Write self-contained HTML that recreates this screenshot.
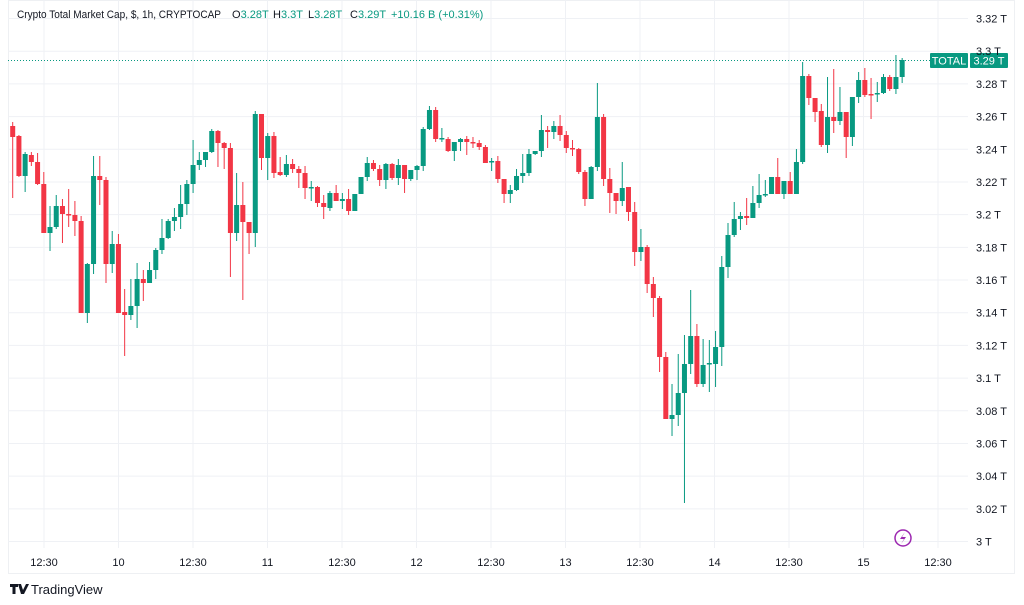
<!DOCTYPE html>
<html><head><meta charset="utf-8"><style>
body{margin:0;background:#fff;width:1024px;height:605px;overflow:hidden;font-family:"Liberation Sans",sans-serif}
svg{position:absolute;left:0;top:0}
</style></head><body>
<svg id="s" width="1024" height="605" xmlns="http://www.w3.org/2000/svg" font-family="Liberation Sans, sans-serif">
<rect x="8.5" y="0.5" width="1006" height="573" fill="none" stroke="#eef0f3"/>
<g id="grid" stroke="#eff1f5" stroke-width="1"></g>
<g id="c"></g>
<line x1="8" y1="60.5" x2="930" y2="60.5" stroke="#089981" stroke-dasharray="1,2"/>
<rect x="930" y="53" width="38" height="15" rx="1" fill="#089981"/>
<rect x="970" y="53" width="38" height="15" rx="1" fill="#089981"/>
<text x="949" y="64.5" font-size="11" fill="#fff" text-anchor="middle">TOTAL</text>
<text x="989" y="64.5" font-size="11" fill="#fff" text-anchor="middle">3.29 T</text>
<g font-size="11" fill="#131722">
<text x="17" y="18" textLength="204" lengthAdjust="spacingAndGlyphs">Crypto Total Market Cap, $, 1h, CRYPTOCAP</text>
<text x="232" y="18">O<tspan fill="#089981">3.28T</tspan></text>
<text x="273" y="18">H<tspan fill="#089981">3.3T</tspan></text>
<text x="308" y="18">L<tspan fill="#089981">3.28T</tspan></text>
<text x="350" y="18">C<tspan fill="#089981">3.29T</tspan></text>
<text x="391" y="18" fill="#089981">+10.16 B (+0.31%)</text>
</g>
<circle cx="903" cy="538" r="8" fill="none" stroke="#9c27b0" stroke-width="1.5"/>
<path d="M905 532 L900 539 L904 539 L901 544 L906 537 L902 537 Z" fill="#9c27b0"/>
<g transform="translate(10,584)"><path d="M0 0h8v3h-2.5v7h-3v-7h-2.5z M8 0h3l2 6 3-6h3l-5 10h-3z" fill="#131722"/></g>
<text x="31" y="594" font-size="13" fill="#131722">TradingView</text>
</svg>
<script>
(function(){
var s=document.getElementById('s'),g=document.getElementById('grid'),c=document.getElementById('c');
var NS='http://www.w3.org/2000/svg';
function el(t,a,p){var e=document.createElementNS(NS,t);for(var k in a)e.setAttribute(k,a[k]);p.appendChild(e);return e;}
var labs=['3.32 T','3.3 T','3.28 T','3.26 T','3.24 T','3.22 T','3.2 T','3.18 T','3.16 T','3.14 T','3.12 T','3.1 T','3.08 T','3.06 T','3.04 T','3.02 T','3 T'];
for(var i=0;i<labs.length;i++){var y=18.5+i*32.69;
 el('line',{x1:8,x2:968,y1:y,y2:y},g);
 var t=el('text',{x:976,y:y+4,'font-size':11,fill:'#131722'},s);t.textContent=labs[i];}
var tl=['12:30','10','12:30','11','12:30','12','12:30','13','12:30','14','12:30','15','12:30'];
for(var i=0;i<tl.length;i++){var x=44+i*74.5;
 el('line',{x1:x,x2:x,y1:0,y2:548},g);
 var t=el('text',{x:x,y:566,'font-size':11,fill:'#131722','text-anchor':'middle'},s);t.textContent=tl[i];}
var d=[[126,137,122,198],[136,176,135,177],[176,154,152,192],[155,162,152,166],[162,184,153,185],[184,233,172,233],[233,227,206,251],[227,206,195,229],[206,214,199,243],[214,215,189,227],[215,221,201,236],[221,313,216,313],[313,264,263,323],[264,176,156,274],[176,180,156,205],[180,264,177,283],[264,244,231,273],[244,313,234,313],[312,315,289,356],[315,306,279,320],[306,279,263,328],[279,283,270,301],[283,270,262,283],[270,250,248,279],[250,238,219,254],[238,221,219,239],[221,217,208,231],[217,204,185,229],[204,184,180,215],[184,165,140,193],[165,160,152,170],[160,152,152,167],[152,131,129,153],[131,143,130,167],[143,148,142,169],[148,233,143,277],[233,205,173,241],[205,222,182,300],[222,233,222,254],[233,114,111,247],[114,158,114,170],[158,136,133,180],[136,173,132,178],[172,175,157,176],[175,164,155,177],[164,169,159,173],[169,173,166,188],[173,188,166,199],[188,187,181,201],[187,203,186,207],[203,207,195,219],[208,193,191,211],[193,201,185,201],[201,199,193,209],[199,211,189,215],[211,194,194,211],[194,177,177,194],[177,163,157,181],[163,169,160,171],[169,180,165,186],[180,164,163,189],[164,178,163,180],[178,165,159,185],[165,179,165,193],[179,170,170,181],[170,166,165,180],[166,129,127,171],[129,110,106,130],[110,139,107,142],[139,138,128,142],[139,151,137,152],[151,142,142,161],[142,139,138,151],[139,142,136,155],[142,143,137,148],[143,147,140,150],[147,163,145,163],[162,161,158,171],[161,179,156,183],[179,194,179,203],[194,190,185,203],[190,176,169,191],[176,173,154,183],[173,154,149,176],[154,151,151,155],[151,130,115,157],[130,132,126,148],[132,126,121,139],[126,135,115,141],[135,148,131,153],[148,149,140,156],[149,172,148,174],[172,199,170,206],[199,167,166,199],[167,117,83,171],[117,179,114,186],[179,193,168,213],[193,201,193,214],[201,188,162,206],[187,212,187,221],[212,252,202,266],[252,247,229,261],[247,284,245,293],[284,298,277,317],[298,357,296,372],[357,419,352,419],[419,415,384,436],[415,393,354,426],[393,364,335,503],[364,336,290,374],[336,384,324,387],[384,365,339,387],[364,363,340,392],[364,347,331,387],[347,267,256,366],[267,235,223,278],[235,219,202,237],[219,216,212,230],[216,218,198,225],[218,203,186,218],[203,195,174,208],[195,194,180,197],[194,177,177,194],[177,194,158,194],[194,181,181,199],[181,194,172,194],[194,162,149,194],[162,76,62,164],[76,98,74,105],[98,112,98,122],[111,145,104,147],[145,117,77,153],[117,121,69,133],[121,112,87,125],[112,137,112,158],[137,97,97,146],[97,80,72,103],[80,95,68,97],[94,95,78,119],[94,93,82,102],[93,77,74,94],[77,89,75,91],[89,77,55,94],[77,60,58,83]];
for(var i=0;i<d.length;i++){var o=d[i][0],cl=d[i][1],hi=d[i][2],lo=d[i][3];
 var x=12.7+6.22*i,col=cl<=o?'#089981':'#f23645';
 el('line',{x1:x,x2:x,y1:hi,y2:lo,stroke:col,'stroke-width':1},c);
 var ty=Math.min(o,cl),hh=Math.max(Math.abs(o-cl),1.5);
 el('rect',{x:x-2.5,y:ty,width:5,height:hh,fill:col},c);}
})();
</script>
</body></html>
